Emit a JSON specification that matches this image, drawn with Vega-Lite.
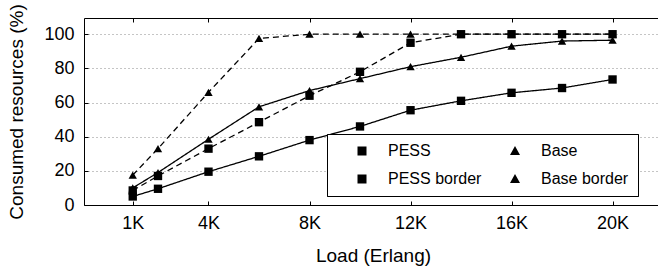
{
  "$schema": "https://vega.github.io/schema/vega-lite/v6.json",
  "width": 574,
  "height": 187,
  "autosize": {"type": "none"},
  "padding": {"left": 84, "top": 18, "right": 0, "bottom": 65},
  "background": "white",
  "config": {
    "view": {"stroke": null},
    "font": "Liberation Sans",
    "axis": {
      "domainColor": "black", "domainWidth": 1,
      "tickColor": "black", "tickSize": -4, "tickWidth": 1,
      "gridColor": "#8a8a8a", "gridDash": [1, 3], "gridWidth": 1,
      "labelFont": "Liberation Sans", "titleFont": "Liberation Sans",
      "labelColor": "black", "titleColor": "black",
      "labelFontSize": 18, "titleFontSize": 19, "titleFontWeight": "normal"
    },
    "legend": {
      "orient": "none", "legendX": 243, "legendY": 116,
      "columns": 2, "title": null,
      "strokeColor": "black", "fillColor": "white", "padding": 9,
      "symbolSize": 100, "symbolStrokeWidth": 1.3, "symbolOpacity": 1,
      "symbolStrokeColor": "black", "symbolFillColor": "black",
      "symbolOffset": 18, "labelOffset": 18,
      "columnPadding": 7, "rowPadding": 12,
      "labelFont": "Liberation Sans", "labelFontSize": 16, "labelColor": "black"
    }
  },
  "data": {"values": [
    {"load": 1000, "value": 5, "series": "PESS"},
    {"load": 2000, "value": 9.5, "series": "PESS"},
    {"load": 4000, "value": 19.5, "series": "PESS"},
    {"load": 6000, "value": 28.5, "series": "PESS"},
    {"load": 8000, "value": 38, "series": "PESS"},
    {"load": 10000, "value": 46, "series": "PESS"},
    {"load": 12000, "value": 55.5, "series": "PESS"},
    {"load": 14000, "value": 61, "series": "PESS"},
    {"load": 16000, "value": 65.7, "series": "PESS"},
    {"load": 18000, "value": 68.5, "series": "PESS"},
    {"load": 20000, "value": 73.5, "series": "PESS"},
    {"load": 1000, "value": 10, "series": "Base"},
    {"load": 2000, "value": 19, "series": "Base"},
    {"load": 4000, "value": 38.5, "series": "Base"},
    {"load": 6000, "value": 57.5, "series": "Base"},
    {"load": 8000, "value": 67, "series": "Base"},
    {"load": 10000, "value": 74, "series": "Base"},
    {"load": 12000, "value": 81, "series": "Base"},
    {"load": 14000, "value": 86.5, "series": "Base"},
    {"load": 16000, "value": 93, "series": "Base"},
    {"load": 18000, "value": 96, "series": "Base"},
    {"load": 20000, "value": 96.5, "series": "Base"},
    {"load": 1000, "value": 8.5, "series": "PESS border"},
    {"load": 2000, "value": 17, "series": "PESS border"},
    {"load": 4000, "value": 33, "series": "PESS border"},
    {"load": 6000, "value": 48.5, "series": "PESS border"},
    {"load": 8000, "value": 64, "series": "PESS border"},
    {"load": 10000, "value": 78, "series": "PESS border"},
    {"load": 12000, "value": 95, "series": "PESS border"},
    {"load": 14000, "value": 100, "series": "PESS border"},
    {"load": 16000, "value": 100, "series": "PESS border"},
    {"load": 18000, "value": 100, "series": "PESS border"},
    {"load": 20000, "value": 100, "series": "PESS border"},
    {"load": 1000, "value": 17.5, "series": "Base border"},
    {"load": 2000, "value": 33, "series": "Base border"},
    {"load": 4000, "value": 66, "series": "Base border"},
    {"load": 6000, "value": 97.5, "series": "Base border"},
    {"load": 8000, "value": 100, "series": "Base border"},
    {"load": 10000, "value": 100, "series": "Base border"},
    {"load": 12000, "value": 100, "series": "Base border"},
    {"load": 14000, "value": 100, "series": "Base border"},
    {"load": 16000, "value": 100, "series": "Base border"},
    {"load": 18000, "value": 100, "series": "Base border"},
    {"load": 20000, "value": 100, "series": "Base border"}
  ]},
  "layer": [
    {
      "mark": {"type": "point", "filled": false, "fill": "black", "stroke": "black", "strokeWidth": 1.3, "opacity": 0, "size": 100},
      "encoding": {
        "x": {
          "field": "load", "type": "quantitative",
          "scale": {"domain": [-930, 21800], "nice": false, "zero": false},
          "axis": null
        },
        "y": {
          "field": "value", "type": "quantitative",
          "scale": {"domain": [0, 109.5], "nice": false},
          "axis": {
            "values": [0, 20, 40, 60, 80, 100],
            "title": "Consumed resources (%)",
            "labelPadding": 14,
            "titleX": -62, "titleY": 93.5, "titleAngle": 270,
            "titleBaseline": "alphabetic", "titleAlign": "center"
          }
        },
        "shape": {
          "field": "series", "type": "nominal",
          "scale": {
            "domain": ["PESS", "PESS border", "Base", "Base border"],
            "range": [
              "M-4.6,0L4.6,0M-0.9,-0.9L0.9,-0.9L0.9,0.9L-0.9,0.9Z",
              "M-4.6,0L4.6,0M-0.9,-0.9L0.9,-0.9L0.9,0.9L-0.9,0.9Z",
              "M-4.6,0L4.6,0M0,-1L1,0.8L-1,0.8Z",
              "M-4.6,0L4.6,0M0,-1L1,0.8L-1,0.8Z"
            ]
          },
          "legend": {"title": null}
        },
        "strokeDash": {
          "field": "series", "type": "nominal",
          "scale": {
            "domain": ["PESS", "PESS border", "Base", "Base border"],
            "range": [[1, 0], [6, 4], [1, 0], [6, 4]]
          },
          "legend": {"title": null}
        }
      }
    },
    {
      "mark": {"type": "line", "strokeWidth": 1.3, "color": "black"},
      "encoding": {
        "x": {
          "field": "load", "type": "quantitative",
          "scale": {"domain": [-930, 21800], "nice": false, "zero": false},
          "axis": {
            "orient": "bottom",
            "values": [1000, 4000, 8000, 12000, 16000, 20000],
            "labelExpr": "datum.value / 1000 + 'K'",
            "title": "Load (Erlang)",
            "labelBaseline": "alphabetic", "labelPadding": 27,
            "labelFlush": false, "labelOverlap": false,
            "titleBaseline": "alphabetic", "titleY": 56, "titleX": 289
          }
        },
        "y": {
          "field": "value", "type": "quantitative",
          "scale": {"domain": [0, 109.5], "nice": false},
          "axis": {
            "values": [0, 20, 40, 60, 80, 100],
            "title": "Consumed resources (%)",
            "labelPadding": 14,
            "titleX": -62, "titleY": 93.5, "titleAngle": 270,
            "titleBaseline": "alphabetic", "titleAlign": "center"
          }
        },
        "strokeDash": {
          "field": "series", "type": "nominal",
          "scale": {
            "domain": ["PESS", "PESS border", "Base", "Base border"],
            "range": [[1, 0], [6, 4], [1, 0], [6, 4]]
          },
          "legend": null
        }
      }
    },
    {
      "transform": [{"calculate": "datum.series", "as": "marker"}],
      "mark": {"type": "point", "filled": true, "opacity": 1, "color": "black", "strokeWidth": 0},
      "encoding": {
        "x": {
          "field": "load", "type": "quantitative",
          "scale": {"domain": [-930, 21800], "nice": false, "zero": false},
          "axis": {
            "orient": "top",
            "values": [1000, 4000, 8000, 12000, 16000, 20000],
            "labels": false, "title": null, "grid": false
          }
        },
        "y": {
          "field": "value", "type": "quantitative",
          "scale": {"domain": [0, 109.5], "nice": false},
          "axis": {
            "values": [0, 20, 40, 60, 80, 100],
            "title": "Consumed resources (%)",
            "labelPadding": 14,
            "titleX": -62, "titleY": 93.5, "titleAngle": 270,
            "titleBaseline": "alphabetic", "titleAlign": "center"
          }
        },
        "shape": {
          "field": "marker", "type": "nominal",
          "scale": {
            "domain": ["PESS", "PESS border", "Base", "Base border"],
            "range": ["square", "square", "triangle-up", "triangle-up"]
          },
          "legend": null
        },
        "size": {
          "field": "marker", "type": "nominal",
          "scale": {
            "domain": ["PESS", "PESS border", "Base", "Base border"],
            "range": [70, 70, 100, 100]
          },
          "legend": null
        }
      }
    }
  ],
  "resolve": {"axis": {"x": "independent"}, "scale": {"shape": "independent", "size": "independent"}}
}
